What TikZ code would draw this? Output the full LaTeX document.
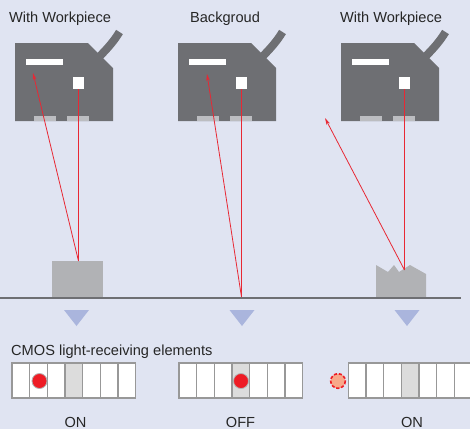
\documentclass[tikz,border=0pt]{standalone}
\usepackage{fontspec}
\setmainfont{Liberation Sans}
\usetikzlibrary{arrows.meta}
\definecolor{bg}{RGB}{224,228,242}
\definecolor{bodygray}{RGB}{110,111,115}
\definecolor{padgray}{RGB}{188,189,193}
\definecolor{workgray}{RGB}{177,178,181}
\definecolor{raycol}{RGB}{232,40,52}
\definecolor{tricol}{RGB}{170,181,221}
\definecolor{cellline}{RGB}{152,152,152}
\definecolor{cellgray}{RGB}{220,220,220}
\definecolor{dotred}{RGB}{238,28,37}
\definecolor{dotpale}{RGB}{248,168,138}
\begin{document}
\begin{tikzpicture}[x=1pt,y=-1pt,
  lbl/.style={font=\fontsize{14.6}{17}\selectfont, text=black!85, inner sep=0pt, anchor=base},
  sensorbody/.style={fill=bodygray},
  cable/.style={draw=bodygray, line width=8pt, line cap=butt},
  pad/.style={fill=padgray},
  window/.style={fill=white},
  ray/.style={draw=raycol, line width=0.8pt},
  rayarrow/.style={ray, -{Stealth[length=7pt,width=3.6pt]}},
  work/.style={fill=workgray},
  ground/.style={draw=bodygray, line width=2pt},
  marker/.style={fill=tricol},
  cell/.style={draw=cellline, line width=1.4pt, fill=white},
  litcell/.style={cell, fill=cellgray},
  spot/.style={draw=gray!60, line width=0.8pt, fill=dotred},
  missspot/.style={draw=dotred, dash pattern=on 3.2pt off 1.8pt, line width=1.6pt, fill=dotpale}
]
\clip (0,0) rectangle (470,429);
\fill[bg] (0,0) rectangle (470,429);
\useasboundingbox (0,0) rectangle (470,429);

% three sensor heads, 163pt apart
\foreach \dx in {0,163,326}{
  \begin{scope}[xshift=\dx pt]
    \draw[cable] (98,58) .. controls (108,48) and (114,41) .. (119.5,32);
    \fill[sensorbody] (15,43) -- (88,43) -- (113,68) -- (113,121) -- (15,121) -- cycle;
    \fill[pad] (34,116) rectangle (56,121);
    \fill[pad] (67,116) rectangle (89,121);
    \fill[window] (26,59) rectangle (63,65);
    \fill[window] (73,77) rectangle (84,89);
  \end{scope}
}

% captions
\node[lbl] (t1) at (60,22) {With Workpiece};
\node[lbl] (t2) at (225,22) {Backgroud};
\node[lbl] (t3) at (391,22) {With Workpiece};

% objects on the conveyor
\fill[work] (52,261) rectangle (103,298);
\fill[work] (376,265) -- (388,272) -- (394,265) -- (399,272) -- (410,265)
  -- (426,274) -- (426,298) -- (376,298) -- cycle;
\draw[ground] (0,298) coordinate (g0) -- (461,298) coordinate (g1);

% emitter, hit and receiver points
\coordinate (e1) at (78.5,89);   \coordinate (h1) at (78.5,261);  \coordinate (r1) at (33,73);
\coordinate (e2) at (241.5,89);  \coordinate (h2) at (241.5,297); \coordinate (r2) at (207,74);
\coordinate (e3) at (404.5,89);  \coordinate (h3) at (404.5,270); \coordinate (r3) at (325,118);

\draw[ray] (e1) -- (h1);
\draw[rayarrow] (h1) -- (r1);
\draw[ray] (e2) -- (h2);
\draw[rayarrow] (h2) -- (r2);
\draw[ray] (e3) -- (h3);
\draw[rayarrow] (h3) -- (r3);

% position markers below the line
\foreach \cx in {76.5,242,407}{
  \fill[marker] (\cx-12.5,310) -- (\cx+12.5,310) -- (\cx,326) -- cycle;
}

% CMOS receiver arrays
\node[lbl, anchor=base west] (cmos) at (11,355) {CMOS light-receiving elements};
\foreach \x in {12,179,348.3}{
  \foreach \i in {0,...,6}{
    \ifnum\i=3
      \draw[litcell] (\x+\i*17.65,363) rectangle ++(17.65,35);
    \else
      \draw[cell] (\x+\i*17.65,363) rectangle ++(17.65,35);
    \fi
  }
}
\draw[spot] (39.5,381) circle (7.5);
\draw[spot] (241,381) circle (7.5);
\draw[missspot] (338,381) circle (7.3);

\node[lbl] (s1) at (75.5,427) {ON};
\node[lbl] (s2) at (240.5,427) {OFF};
\node[lbl] (s3) at (412,427) {ON};
\end{tikzpicture}
\end{document}
